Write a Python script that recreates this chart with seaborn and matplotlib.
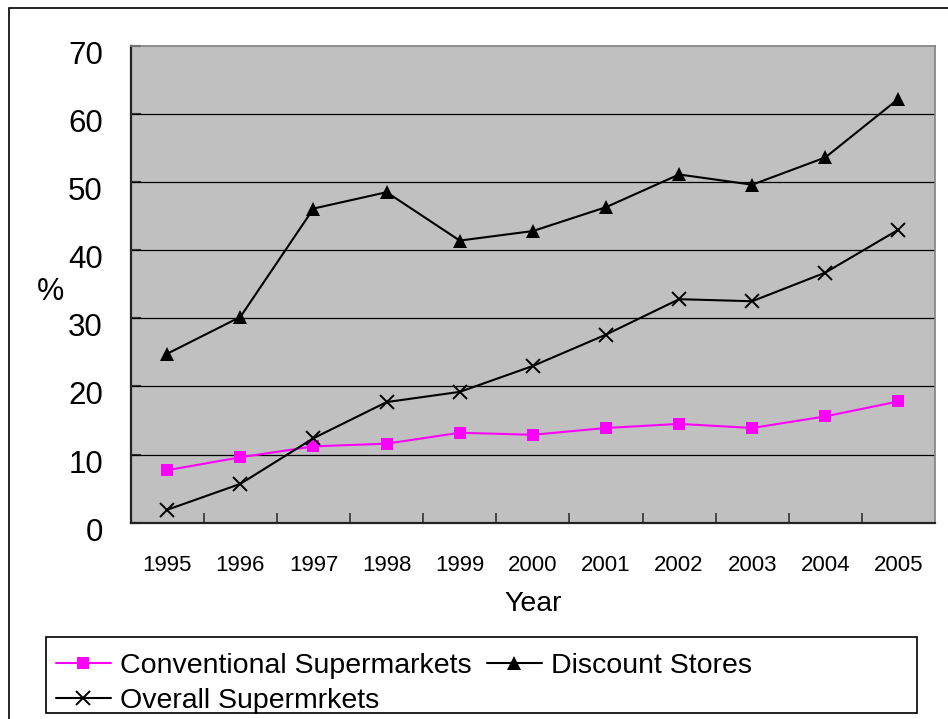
import matplotlib
matplotlib.use("Agg")
import matplotlib.pyplot as plt
import matplotlib.transforms as mtransforms
from matplotlib.patches import Rectangle
import pandas as pd
import seaborn as sns

# Market share (%) by year
years = [1995, 1996, 1997, 1998, 1999, 2000, 2001, 2002, 2003, 2004, 2005]
conventional = [7.7, 9.6, 11.2, 11.6, 13.2, 12.9, 13.9, 14.5, 13.9, 15.6, 17.8]
discount = [24.8, 30.2, 46.1, 48.5, 41.4, 42.8, 46.3, 51.1, 49.6, 53.6, 62.2]
overall = [1.9, 5.7, 12.4, 17.7, 19.2, 23.0, 27.6, 32.8, 32.5, 36.7, 43.0]
y_ticks = [0, 10, 20, 30, 40, 50, 60, 70]

series_names = ["Conventional Supermarkets", "Discount Stores", "Overall Supermrkets"]

df = pd.DataFrame({
    "Year": years * 3,
    "Share": conventional + discount + overall,
    "Series": sum([[n] * len(years) for n in series_names], []),
})

sns.set_style("white")
plt.rcParams["font.family"] = ["Liberation Sans", "DejaVu Sans"]
plt.rcParams["text.color"] = "black"
plt.rcParams["xtick.color"] = "black"
plt.rcParams["ytick.color"] = "black"
plt.rcParams["axes.labelcolor"] = "black"

W, H = 948, 719
fig = plt.figure(figsize=(W / 100, H / 100), dpi=100)
ax = fig.add_axes([130.7 / W, 1 - 522.7 / H, (935 - 130.7) / W, (522.7 - 45.7) / H])
ax.set_facecolor("#C0C0C0")

styles = {
    "Conventional Supermarkets": dict(color="#FF00FF", marker="s", ms=8.5, mew=0, lw=1.5),
    "Discount Stores": dict(color="black", marker="^", ms=9.5, mew=0, lw=1.5),
    "Overall Supermrkets": dict(color="black", marker="x", ms=9.5, mew=1.4, lw=1.5),
}

handles = {}
for name in series_names:
    st = styles[name]
    sub = df[df["Series"] == name]
    sns.lineplot(data=sub, x="Year", y="Share", ax=ax, color=st["color"], lw=st["lw"],
                 marker=st["marker"], markersize=st["ms"], markeredgewidth=st["mew"],
                 markeredgecolor=st["color"], markerfacecolor=st["color"],
                 label=name, legend=False)
    handles[name] = ax.lines[-1]

ax.set_xlim(years[0] - 0.5, years[-1] + 0.5)
ax.set_ylim(y_ticks[0], y_ticks[-1])
ax.set_yticks(y_ticks)
ax.set_xticks(years)
ax.set_xticklabels([str(y) for y in years])
ax.set_xticks([y + 0.5 for y in years[:-1]], minor=True)

# horizontal gridlines
ax.grid(False)
for v in y_ticks[1:-1]:
    ax.axhline(v, color="black", lw=0.9, zorder=1)

ax.tick_params(axis="y", which="major", direction="in", length=7, width=1.5,
               color="#333333", labelcolor="black", labelsize=22.5, pad=20, left=True)
ax.tick_params(axis="x", which="major", length=0, labelsize=16, labelcolor="black", pad=23)
ax.tick_params(axis="x", which="minor", direction="in", length=7, width=1.2,
               color="#333333", bottom=True)

# value labels sit slightly below their gridlines
shift = mtransforms.ScaledTranslation(0, -0.065, fig.dpi_scale_trans)
for lbl in ax.get_yticklabels():
    lbl.set_transform(lbl.get_transform() + shift)

for side in ["left", "bottom"]:
    ax.spines[side].set_color("#222222")
    ax.spines[side].set_linewidth(1.6)
for side in ["top", "right"]:
    ax.spines[side].set_color("#808080")
    ax.spines[side].set_linewidth(1.2)

ax.set_xlabel("Year", fontsize=20.5, labelpad=11, color="black")
ax.set_ylabel("%", fontsize=22, rotation=0, ha="center", va="center", color="black")
ax.yaxis.set_label_coords((50 - 130.7) / (935 - 130.7), (522.7 - 291.7) / (522.7 - 45.7))

# legend: entries laid out row-wise in two columns
order = ["Conventional Supermarkets", "Overall Supermrkets", "Discount Stores"]
leg = fig.legend([handles[n] for n in order], order, ncol=2, loc="upper left",
                 bbox_to_anchor=(56 / W, 1 - 653 / H), frameon=False,
                 fontsize=20.5, handlelength=1.93, handletextpad=0.32,
                 columnspacing=0.53, labelspacing=0.3, borderpad=0, borderaxespad=0)
for t in leg.get_texts():
    t.set_color("black")

fig.add_artist(Rectangle((46.3 / W, 1 - 713 / H), (916.7 - 46.3) / W, (713 - 637) / H,
                         transform=fig.transFigure, fill=False, ec="black", lw=1.2))
# outer chart frame
fig.add_artist(Rectangle((9 / W, -0.1), 1.2, 1.1 - 8 / H,
                         transform=fig.transFigure, fill=False, ec="black", lw=1.2))

fig.savefig("out.png", dpi=100)
